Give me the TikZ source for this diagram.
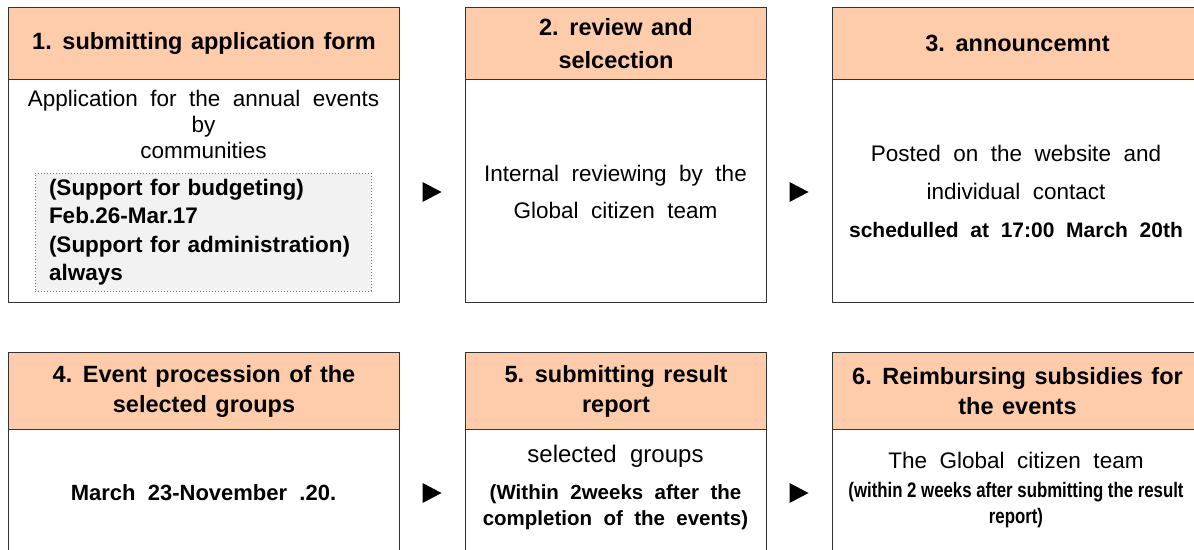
\documentclass[tikz,border=0pt]{standalone}
\usepackage{fontspec}
\setmainfont[WordSpace=2]{Liberation Sans}
\newfontfamily\headfont[WordSpace=1.3]{Liberation Sans}
\newfontfamily\condfont[FakeStretch=0.8,WordSpace=1]{Liberation Sans}
\usepackage{xcolor}
\usepackage{tikz}
\usetikzlibrary{positioning}
\definecolor{headfill}{RGB}{255,204,171}
\definecolor{notefill}{RGB}{242,242,242}

\begin{document}
\begin{tikzpicture}[x=1pt, y=-1pt,
  head/.style={draw=black!80, line width=1pt, fill=headfill, anchor=north west,
    inner sep=0pt, align=center, font=\headfont\bfseries\fontsize{23.5}{33}\selectfont},
  panel/.style={draw=black!80, line width=1pt, anchor=north west, inner sep=0pt},
  txt/.style={align=center, inner sep=0pt, font=\fontsize{22.5}{26}\selectfont},
  note/.style={draw=black!55, dotted, line width=1pt, fill=notefill,
    inner xsep=14pt, inner ysep=0pt, text width=308pt, minimum height=118pt,
    align=left, font=\bfseries\fontsize{22.5}{28.5}\selectfont}]

\useasboundingbox (0,0) rectangle (1194,549);

% first row
\foreach \n/\x/\w/\t in {1/8/391/{1. submitting application form},
                         2/465/301/{2. review and\\selcection},
                         3/832/370/{3. announcemnt}} {
  \node [head, minimum width=\w, minimum height=72] (head-\n) at (\x,7) {\t};
  \node [panel, minimum width=\w, minimum height=223] (panel-\n) at (\x,79) {};
}

\node [txt] (text-1) at (203.5,124) {Application for the annual events\\by\\communities};
\node [note] (note-1) at (203,232)
  {(Support for budgeting)\\Feb.26-Mar.17\\(Support for administration)\\always};
\node [txt] (text-2) at (615.5,191.5) {Internal reviewing by the\\[11pt]Global citizen team};
\node [txt] (text-3) at (1016,191.5) {Posted on the website and\\[12pt]individual contact\\[12pt]%
  {\bfseries\fontsize{21}{26}\selectfont schedulled at 17:00 March 20th}};

% second row
\foreach \n/\x/\w/\t in {4/8/391/{4. Event procession of the\\selected groups},
                         5/465/301/{5. submitting result\\report},
                         6/832/370/{6. Reimbursing subsidies for\\the events}} {
  \node [head, font=\headfont\bfseries\fontsize{23.5}{30}\selectfont, minimum width=\w, minimum height=77]
    (head-\n) at (\x,352) {\t};
  \node [panel, minimum width=\w, minimum height=140] (panel-\n) at (\x,429) {};
}

\node [txt, font=\bfseries\fontsize{22}{26}\selectfont] (text-4) at (203.5,493) {March 23-November .20.};
\node [txt] (text-5) at (615.5,487) {{\fontsize{24}{26}\selectfont selected groups}\\[11pt]%
  {\bfseries\fontsize{20.5}{26}\selectfont (Within 2weeks after the}\\%
  {\bfseries\fontsize{20.5}{26}\selectfont completion of the events)}};
\node [txt] (text-6) at (1016,490) {The Global citizen team\\[3pt]%
  {\condfont\bfseries\fontsize{21}{26}\selectfont (within 2 weeks after submitting the result}\\%
  {\condfont\bfseries\fontsize{21}{26}\selectfont report)}};

% step markers
\foreach \y [count=\r] in {192,493}
  \foreach \x [count=\c] in {432,799} {
    \coordinate (mark-\r-\c) at (\x,\y);
    \fill (mark-\r-\c) ++(-9.5,-10) -- ++(19,10) -- ++(-19,10) -- cycle;
  }

\end{tikzpicture}
\end{document}
